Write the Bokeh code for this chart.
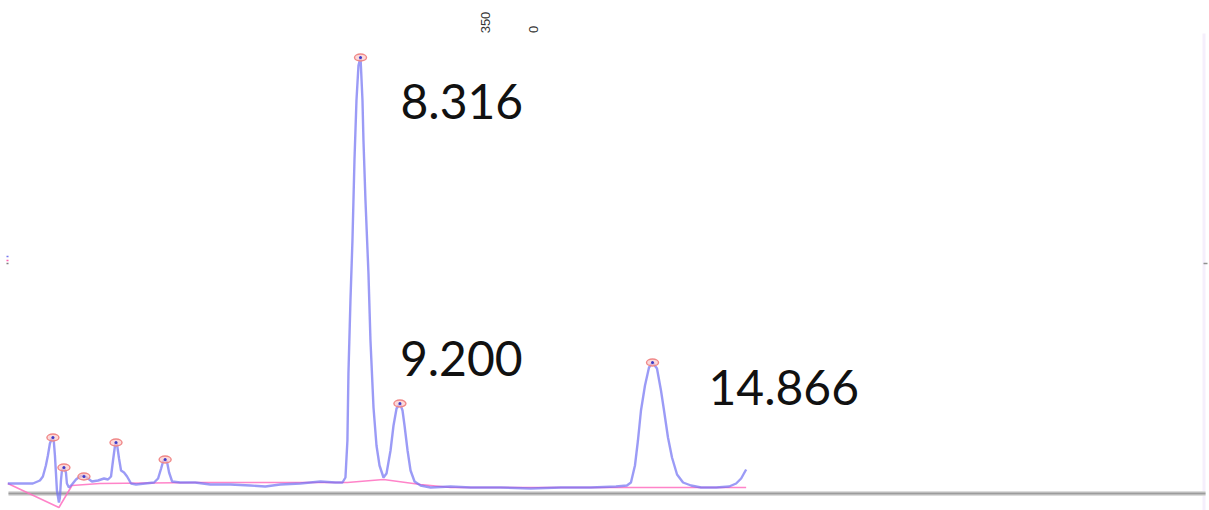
from math import pi

from bokeh.core.properties import value
from bokeh.embed import file_html
from bokeh.models import ColumnDataSource, Label, Range1d
from bokeh.plotting import figure
from bokeh.resources import INLINE

# Detector trace (retention time in min, signal in mAU)
trace_time = [
    0.404, 0.674, 0.966, 1.124, 1.191, 1.258, 1.303, 1.348, 1.393, 1.416,
    1.438, 1.461, 1.483, 1.506, 1.551, 1.573, 1.596, 1.618, 1.663, 1.708,
    1.730, 1.775, 1.843, 1.933, 2.022, 2.112, 2.202, 2.292, 2.427, 2.562,
    2.652, 2.719, 2.764, 2.809, 2.831, 2.854, 2.899, 2.944, 3.011, 3.079,
    3.169, 3.281, 3.483, 3.685, 3.775, 3.843, 3.888, 3.933, 3.978, 4.022,
    4.090, 4.270, 4.607, 4.944, 5.393, 5.843, 6.180, 6.517, 6.966, 7.416,
    7.753, 7.910, 7.978, 8.022, 8.045, 8.090, 8.135, 8.180, 8.225, 8.270,
    8.316, 8.360, 8.382, 8.427, 8.494, 8.539, 8.607, 8.674, 8.742, 8.831,
    8.899, 8.989, 9.056, 9.124, 9.200, 9.258, 9.303, 9.371, 9.438, 9.528,
    9.663, 9.888, 10.337, 10.787, 11.461, 12.135, 12.809, 13.483, 14.045, 14.292,
    14.382, 14.472, 14.539, 14.607, 14.697, 14.787, 14.866, 14.966, 15.056, 15.124,
    15.213, 15.303, 15.416, 15.551, 15.730, 15.955, 16.292, 16.584, 16.742, 16.854,
    16.966,
]
trace_signal = [
    8.0, 8.0, 8.0, 10.4, 13.6, 22.4, 30.4, 40.0, 44.0, 44.8,
    40.8, 30.4, 16.8, 2.4, -7.2, -3.2, 10.4, 18.4, 20.8, 16.8,
    8.0, 4.8, 7.2, 11.2, 13.6, 14.4, 12.0, 9.6, 10.4, 12.0,
    11.2, 13.6, 26.4, 38.4, 40.8, 39.2, 28.0, 18.4, 16.8, 13.6,
    8.0, 7.2, 8.0, 8.8, 12.0, 20.0, 25.6, 27.2, 24.8, 16.8,
    9.6, 8.8, 8.8, 7.2, 7.2, 6.4, 5.6, 7.2, 8.0, 9.6,
    8.8, 8.8, 12.8, 42.4, 96.0, 154.4, 202.4, 266.4, 314.4, 342.4,
    348.8, 314.4, 282.4, 234.4, 176.0, 122.4, 68.8, 38.4, 22.4, 12.8,
    16.0, 34.4, 54.4, 68.0, 72.0, 66.4, 54.4, 34.4, 18.4, 9.6,
    6.4, 4.8, 5.6, 4.8, 4.8, 4.0, 4.8, 4.8, 5.6, 6.4,
    8.8, 22.4, 42.4, 66.4, 86.4, 100.8, 104.8, 100.0, 82.4, 66.4,
    44.8, 28.8, 15.2, 8.8, 6.4, 4.8, 4.8, 5.6, 8.0, 12.0,
    19.2,
]

# Integration baseline drawn under the peaks
base_time = [0.404, 1.551, 1.843, 2.472, 4.720, 8.020, 8.831, 9.663, 10.337, 16.966]
base_signal = [8.0, -11.2, 6.4, 8.0, 8.8, 8.8, 11.2, 7.2, 4.8, 4.8]

# Detected peak apexes
peak_time = [1.416, 1.663, 2.112, 2.831, 3.933, 8.316, 9.200, 14.866]
peak_signal = [44.8, 20.8, 13.6, 40.8, 27.2, 348.8, 72.0, 104.8]

# Peaks that carry a retention-time label
labelled_time = [8.316, 9.200, 14.866]
labelled_signal = [348.8, 72.0, 104.8]

W, H = 1209, 510
T0, T1 = 0.24, 27.36
Y0, Y1 = -13.6, 394.4


def sx(px):
    return T0 + (T1 - T0) * px / W


def sy(py):
    return Y1 - (Y1 - Y0) * py / H


p = figure(
    width=W, height=H, output_backend="svg", toolbar_location=None,
    x_range=Range1d(T0, T1), y_range=Range1d(Y0, Y1),
    min_border=0, min_border_left=0, min_border_right=0,
    min_border_top=0, min_border_bottom=0,
)
p.axis.visible = False
p.grid.visible = False
p.outline_line_color = None
p.background_fill_color = "white"
p.border_fill_color = "white"

# faint frame edge on the right
p.quad(left=sx(1202), right=sx(1205), bottom=Y0, top=sy(33),
       fill_color="#f5effc", line_color=None)

# zero line
p.segment(x0=[sx(8)], y0=[0], x1=[sx(1205)], y1=[0], line_color="#dcdcdc", line_width=5)
p.segment(x0=[sx(8)], y0=[0], x1=[sx(1205)], y1=[0], line_color="#9c9c9c", line_width=2)

# small legend ticks at the left and right edges
p.segment(x0=[sx(6)] * 3, x1=[sx(8)] * 3,
          y0=[sy(256), sy(260), sy(263)], y1=[sy(256), sy(260), sy(263)],
          line_color=["#7878f0", "#ff60b0", "#808080"], line_width=1.5)
p.segment(x0=[sx(1203)], x1=[sx(1207)], y0=[sy(263)], y1=[sy(263)],
          line_color="#909090", line_width=1.5)

trace = ColumnDataSource(dict(t=trace_time, s=trace_signal))
base = ColumnDataSource(dict(t=base_time, s=base_signal))
peaks = ColumnDataSource(dict(t=peak_time, s=peak_signal))

p.line("t", "s", source=base, line_color="#ff6fc0", line_width=1.6, line_alpha=0.85)
p.line("t", "s", source=trace, line_color="#7070f2", line_width=2.4, line_alpha=0.7)

p.ellipse("t", "s", source=peaks, width=12, height=7, width_units="screen",
          height_units="screen", fill_color="#fbc4c4", fill_alpha=0.65,
          line_color="#f08888", line_width=1.4)
p.scatter("t", "s", source=peaks, size=3, color="#3a3ac8", line_color=None)

labels = ColumnDataSource(dict(
    t=labelled_time, s=labelled_signal,
    txt=["%.3f" % t for t in labelled_time],
    dx=[40, 0, 56], dy=[44, -45, 25],
))
p.text("t", "s", text="txt", source=labels, x_offset="dx", y_offset="dy",
       text_font=value("Lato"), text_font_size="48px", text_color="#111111",
       text_align="left", text_baseline="alphabetic")

for txt, x, y in [("350", 485, 22), ("0", 533, 29)]:
    p.add_layout(Label(x=x, y=H - y, x_units="screen", y_units="screen", text=txt,
                       angle=pi / 2, text_align="center", text_baseline="middle",
                       text_font="Liberation Sans", text_font_size="13px",
                       text_color="#333333"))

open("out.html", "w").write(file_html(p, INLINE))
